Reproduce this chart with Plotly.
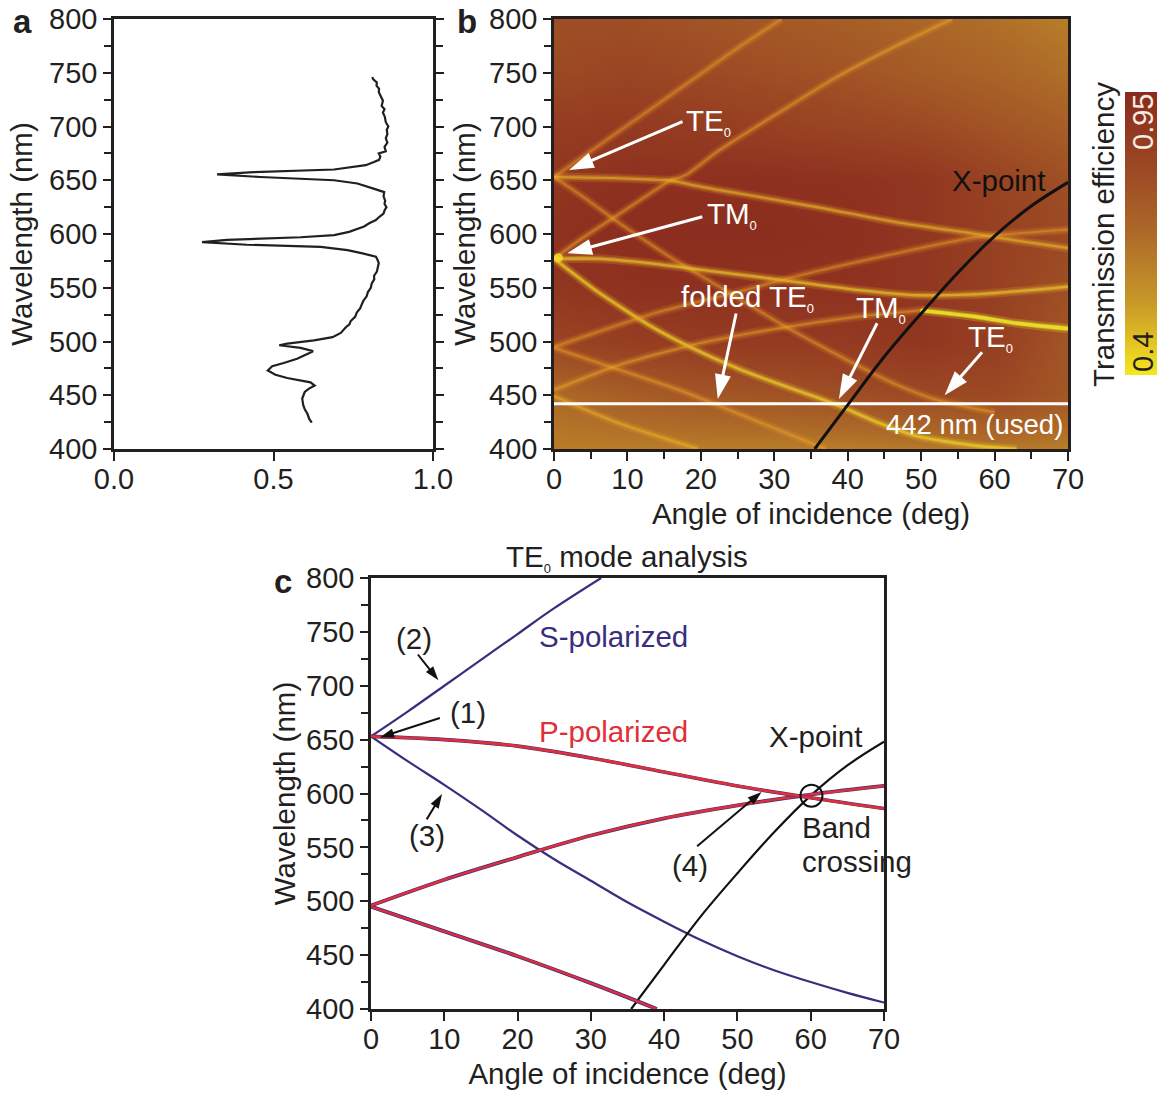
import plotly.graph_objects as go

W, H = 1161, 1095
INK = "#231f20"
NAVY = "#3a2d7d"
RED = "#e12f38"
FONT = "Liberation Sans"

# --- panel a
a_wavelength = [424.5,428,433,437,441,447,453,456,459,462,466,469,473,477,480,484,489,491,494,496.5,498,501,504,508,
                513,516,519,523,527,531,534,538,542,546,550,554,558,561,565,569,573,576,579,582,585,588,590,592.5,594.5,597,599,
                602,607,610,613,616,619,622,625,628,631,635,639,642,647,650,653,655.5,657.5,660,664,667,669,672,675,677,
                681,685,689,693,697,700,704,709,713,716,719,724,728,732,735,738,741,744,746]
a_transmission = [.62,.612,.606,.598,.593,.59,.598,.610,.629,.616,.543,.506,.482,.496,.532,.574,.611,.624,.585,.518,.543,.627,.685,.711,
                  .726,.738,.742,.756,.761,.772,.776,.782,.792,.796,.805,.808,.816,.815,.824,.826,.83,.826,.821,.779,.732,.648,.417,.276,.354,.585,.69,
                  .737,.784,.800,.821,.832,.845,.848,.854,.848,.85,.845,.847,.816,.763,.69,.459,.323,.438,.69,.789,.815,.831,.835,.83,.852,
                  .848,.857,.852,.857,.855,.860,.852,.849,.843,.848,.839,.843,.836,.830,.831,.823,.824,.812,.81]

# --- panel b : background map and bright bands
map_angle = [0, 10, 20, 30, 40, 50, 60, 70]
map_wavelength = [400, 450, 500, 550, 600, 650, 700, 750, 800]
map_transmission = [
    [.62,.62,.62,.62,.62,.63,.64,.62],
    [.68,.72,.75,.76,.78,.80,.80,.75],
    [.82,.85,.86,.87,.87,.89,.85,.75],
    [.89,.91,.92,.91,.91,.89,.84,.78],
    [.91,.93,.93,.93,.92,.89,.84,.80],
    [.89,.92,.92,.92,.91,.89,.83,.78],
    [.86,.87,.86,.84,.82,.80,.76,.72],
    [.80,.82,.80,.78,.76,.73,.70,.66],
    [.78,.78,.76,.74,.72,.69,.66,.62],
]
colorbar_levels = [.40, .45, .50, .55, .60, .65, .70, .75, .80, .85, .90, .95]
color_positions = [0, .1, .25, .5, .75, 1]
color_values = ["#f5e81e", "#e6c822", "#c99a28", "#ad6a28", "#9a4623", "#8a2a1e"]

bands = {
    "te_up_1": ([0, 5, 10, 15, 20, 25, 31], [653, 677, 701, 725, 749, 773, 800], .25),
    "te_flat": ([0, 8, 15.8], [653, 652, 650], .5),
    "te_up_2": ([15.8, 18, 22.3, 30.4, 38.5, 46.6, 54.2], [650, 655, 677, 712, 746, 775, 800], .3),
    "tm_up": ([0, 3.4, 8.3, 15.8], [577, 594, 616, 650], .3),
    "p_down": ([15.8, 20, 25, 35.8, 46.6, 57.5, 62.9, 70], [650, 644, 638, 625, 611, 600, 594, 587], .5),
    "s_down": ([0, 4.5, 8.3, 12.6, 16.4, 22, 31.5, 39.6, 46.6, 52, 60], [653, 632, 613, 593, 576, 553, 514, 484, 460, 446, 434], .28),
    "tm_flat": ([0, 6, 14, 22, 32.4, 41.2, 49.4, 58, 70], [577, 577, 572, 565, 556, 548, 543, 544, 551], .62),
    "tm_down": ([0, 6, 13, 18.5, 25, 30.4, 35.8, 39.6, 44, 49.4, 57.5, 63], [577, 546, 515, 495, 475, 461, 448, 438, 425, 412, 403, 400], .68),
    "folded_up": ([0, 14, 25, 32.6, 46.6, 57.5, 70], [495, 527, 546, 560, 582, 597, 604], .28),
    "low_up": ([0, 8.8, 19.6, 30.4, 41.2, 49.9], [455, 478, 498, 512, 523, 529], .32),
    "bright_end": ([49.9, 57.5, 63, 70], [529, 523, 517, 512], 1.0),
    "folded_down": ([0, 8.3, 17, 24, 37], [494, 475, 455, 436, 400], .28),
    "low_down": ([0, 8.8, 19.6], [449, 424, 400], .4),
}
spot_angle = [.6]
spot_wavelength = [578]

xpoint_angle = [35.5, 40, 45, 50, 55, 60, 65, 70]
xpoint_wavelength = [400, 441, 486, 526, 564, 598, 626, 648]
used_angle = [0, 70]
used_wavelength = [442, 442]

# --- panel c
s_up_angle = [0, 5, 10, 15, 20, 25, 31.4]
s_up_wavelength = [653, 676, 700, 724, 748, 772, 800]
s_down_angle = [0, 5, 10, 15, 20, 25, 30, 35, 40, 45, 50, 55, 60, 65, 70]
s_down_wavelength = [653, 630, 608, 585, 561, 539, 519, 499, 481, 464, 449, 436, 425, 415, 406]
p_top_angle = [0, 10, 20, 30, 40, 50, 60, 70]
p_top_wavelength = [653, 650, 644, 633, 620, 607, 596, 586]
p_rise_angle = [0, 10, 20, 30, 40, 50, 60, 70]
p_rise_wavelength = [496, 520, 541, 561, 577, 589, 599, 607]
p_low_angle = [0, 10, 20, 30, 39]
p_low_wavelength = [495, 472, 449, 424, 400]
crossing_angle = [60.1]
crossing_wavelength = [598]

# arrows: [tail, tip] in data coordinates
b_arrows = [([17.5, 2.05], [704.5, 659.5]), ([20.2, 1.8], [616, 582]), ([24.8, 22.3], [526, 446.5]),
            ([44, 38.8], [517, 446.5]), ([58.3, 53.2], [490, 450])]
c_arrows = [([9.4, 1.2], [670, 652]), ([6.4, 9.2], [729, 705]), ([7.6, 9.7], [576, 599.5]), ([44.5, 53.3], [551, 601.5])]


def px_x(a, b):
    return [a / W, b / W]


def px_y(t, b):
    return [1 - b / H, 1 - t / H]


fig = go.Figure()

fig.add_trace(go.Scatter(x=a_transmission, y=a_wavelength, mode="lines",
                         line=dict(color=INK, width=2.2), xaxis="x", yaxis="y", showlegend=False))

scale = [[p, c] for p, c in zip(color_positions, color_values)]
fig.add_trace(go.Heatmap(x=map_angle, y=map_wavelength, z=map_transmission, zmin=.4, zmax=.95, zsmooth="best",
                         colorscale=scale, showscale=False, xaxis="x2", yaxis="y2"))
fig.add_trace(go.Heatmap(x=[0, 1], y=colorbar_levels, z=[[v, v] for v in colorbar_levels], zmin=.4, zmax=.95, zsmooth="best",
                         colorscale=scale, showscale=False, xaxis="x4", yaxis="y4"))

for name, (bx, by, level) in bands.items():
    green = int(130 + 95 * level)
    core = 1.6 + 1.8 * level ** 2
    for width, alpha, lift in [(9, .10 + .14 * level, 0), (5, .16 + .26 * level, 8), (core, .18 + .6 * level, 18)]:
        fig.add_trace(go.Scatter(x=bx, y=by, mode="lines", xaxis="x2", yaxis="y2", showlegend=False, name=name,
                                 line=dict(color=f"rgba(238,{min(green + lift, 235)},40,{alpha:.2f})", width=width, shape="spline", smoothing=.6)))
fig.add_trace(go.Scatter(x=spot_angle, y=spot_wavelength, mode="markers", xaxis="x2", yaxis="y2", showlegend=False,
                         marker=dict(color="rgba(245,225,40,.8)", size=9, line=dict(width=0))))
fig.add_trace(go.Scatter(x=used_angle, y=used_wavelength, mode="lines", xaxis="x2", yaxis="y2", showlegend=False,
                         line=dict(color="white", width=3)))
fig.add_trace(go.Scatter(x=xpoint_angle, y=xpoint_wavelength, mode="lines", xaxis="x2", yaxis="y2", showlegend=False,
                         line=dict(color="#111111", width=3, shape="spline")))

for cx, cy, c, w in [
    (s_up_angle, s_up_wavelength, NAVY, 2.2),
    (s_down_angle, s_down_wavelength, NAVY, 2.2),
    (xpoint_angle, xpoint_wavelength, "#111111", 2.2),
    (p_low_angle, p_low_wavelength, NAVY, 3.8),
    (p_low_angle, p_low_wavelength, RED, 2.4),
    (p_rise_angle, p_rise_wavelength, NAVY, 3.8),
    (p_rise_angle, p_rise_wavelength, RED, 2.6),
    (p_top_angle, p_top_wavelength, NAVY, 3.6),
    (p_top_angle, p_top_wavelength, RED, 2.8),
]:
    fig.add_trace(go.Scatter(x=cx, y=cy, mode="lines", xaxis="x3", yaxis="y3", showlegend=False,
                             line=dict(color=c, width=w, shape="spline")))
fig.add_trace(go.Scatter(x=crossing_angle, y=crossing_wavelength, mode="markers", xaxis="x3", yaxis="y3", showlegend=False,
                         marker=dict(symbol="circle-open", size=22, color="#111111", line=dict(width=2, color="#111111"))))


def add_arrows(items, xa, ya, color, width, head):
    for ax, ay in items:
        fig.add_trace(go.Scatter(x=ax, y=ay, mode="lines+markers", xaxis=xa, yaxis=ya, showlegend=False,
                                 line=dict(color=color, width=width),
                                 marker=dict(symbol="arrow", angleref="previous", size=[0, head], opacity=1, color=color, line=dict(width=0))))


add_arrows(b_arrows, "x2", "y2", "white", 3, 26)
add_arrows(c_arrows, "x3", "y3", "#111111", 2, 15)

TICKF = dict(family=FONT, size=29, color=INK)
TITLEF = dict(family=FONT, size=29.5, color=INK)


def xaxis(dom, rng, dtick, title=None, minor=None, anchor="y", mirror=True, standoff=10):
    d = dict(domain=px_x(*dom), range=rng, dtick=dtick, tick0=0, ticks="outside", ticklen=9, tickwidth=2, tickcolor=INK,
             showgrid=False, zeroline=False, showline=True, linecolor=INK, linewidth=2.5, mirror=mirror,
             tickfont=TICKF, anchor=anchor, automargin=False, ticklabelstandoff=-7)
    if title:
        d["title"] = dict(text=title, font=TITLEF, standoff=standoff)
    if minor:
        d["minor"] = dict(dtick=minor, ticks="outside", ticklen=7, tickwidth=2, tickcolor=INK, showgrid=False)
    return d


def yaxis(dom, anchor, mirror=True, standoff=10):
    return dict(domain=px_y(*dom), range=[400, 800], dtick=50, tick0=400, ticks="outside", ticklen=8, tickwidth=2, tickcolor=INK,
                showgrid=False, zeroline=False, showline=True, linecolor=INK, linewidth=2.5, mirror=mirror,
                tickfont=TICKF, anchor=anchor, automargin=False,
                minor=dict(dtick=25, ticks="outside", ticklen=7, tickwidth=2, tickcolor=INK, showgrid=False),
                title=dict(text="Wavelength (nm)", font=TITLEF, standoff=standoff))


layout = dict(
    template="none",
    width=W, height=H, margin=dict(l=0, r=0, t=0, b=0), paper_bgcolor="white", plot_bgcolor="white",
    showlegend=False, font=dict(family=FONT, color=INK),
    xaxis=xaxis((114, 433), [0, 1], .5, anchor="y", mirror=True),
    yaxis=yaxis((19, 449), "x", mirror="ticks", standoff=8),
    xaxis2=xaxis((554, 1068), [0, 70], 10, "Angle of incidence (deg)", minor=5, anchor="y2", standoff=10),
    yaxis2=yaxis((19, 449), "x2", mirror=True, standoff=5),
    xaxis3=xaxis((371, 884), [0, 70], 10, "Angle of incidence (deg)", anchor="y3", standoff=10),
    yaxis3=yaxis((578, 1009), "x3", mirror=True, standoff=2),
    xaxis4=dict(domain=px_x(1125, 1157), range=[0, 1], visible=False, anchor="y4"),
    yaxis4=dict(domain=px_y(92, 375), range=[.4, .95], visible=False, anchor="x4"),
)
layout["xaxis"]["tickformat"] = ".1f"
fig.update_layout(**layout)

SUB0 = '<sub><span style="font-size:13px">0</span></sub>'
ann = []


def text(x, y, s, color=INK, axis="2", size=29.5, **kw):
    ann.append(dict(x=x, y=y, xref="x" + axis, yref="y" + axis, text=s, showarrow=False,
                    font=dict(family=FONT, size=size, color=color), **kw))


# panel b labels
text(21.1, 704, "TE" + SUB0, "white")
text(24.3, 618, "TM" + SUB0, "white")
text(26.4, 540, "folded TE" + SUB0, "white")
text(44.5, 530, "TM" + SUB0, "white")
text(59.4, 503, "TE" + SUB0, "white")
text(57.2, 423, "442 nm (used)", "white", size=27.5)
text(60.6, 650, "X-point", "#111111")

# panel c labels
text(13.2, 675, "(1)", axis="3")
text(5.8, 744, "(2)", axis="3")
text(7.7, 561, "(3)", axis="3")
text(43.5, 533, "(4)", axis="3")
text(33.1, 746, "S-polarized", NAVY, axis="3")
text(33.1, 658, "P-polarized", RED, axis="3")
text(60.6, 653, "X-point", axis="3")
text(58.6, 568, "Band", axis="3", xanchor="left")
text(58.6, 536.5, "crossing", axis="3", xanchor="left")


def paper(px, py, s, size=29.5, color=INK, **kw):
    ann.append(dict(x=px / W, y=1 - py / H, xref="paper", yref="paper", text=s, showarrow=False,
                    xanchor="center", yanchor="middle", font=dict(family=FONT, size=size, color=color), **kw))


paper(627, 558, "TE" + SUB0 + " mode analysis")
paper(22, 21, "<b>a</b>", size=33)
paper(467, 21, "<b>b</b>", size=33)
paper(283, 581, "<b>c</b>", size=33)
paper(1103, 235, "Transmission efficiency", textangle=-90)
paper(1143, 122, "0.95", size=29, color="#f7ece0", textangle=-90)
paper(1143, 352, "0.4", size=29, color=INK, textangle=-90)

fig.update_layout(annotations=ann)
fig.write_html("out.html", post_script="document.body.style.margin='0';", config={"displayModeBar": False})
